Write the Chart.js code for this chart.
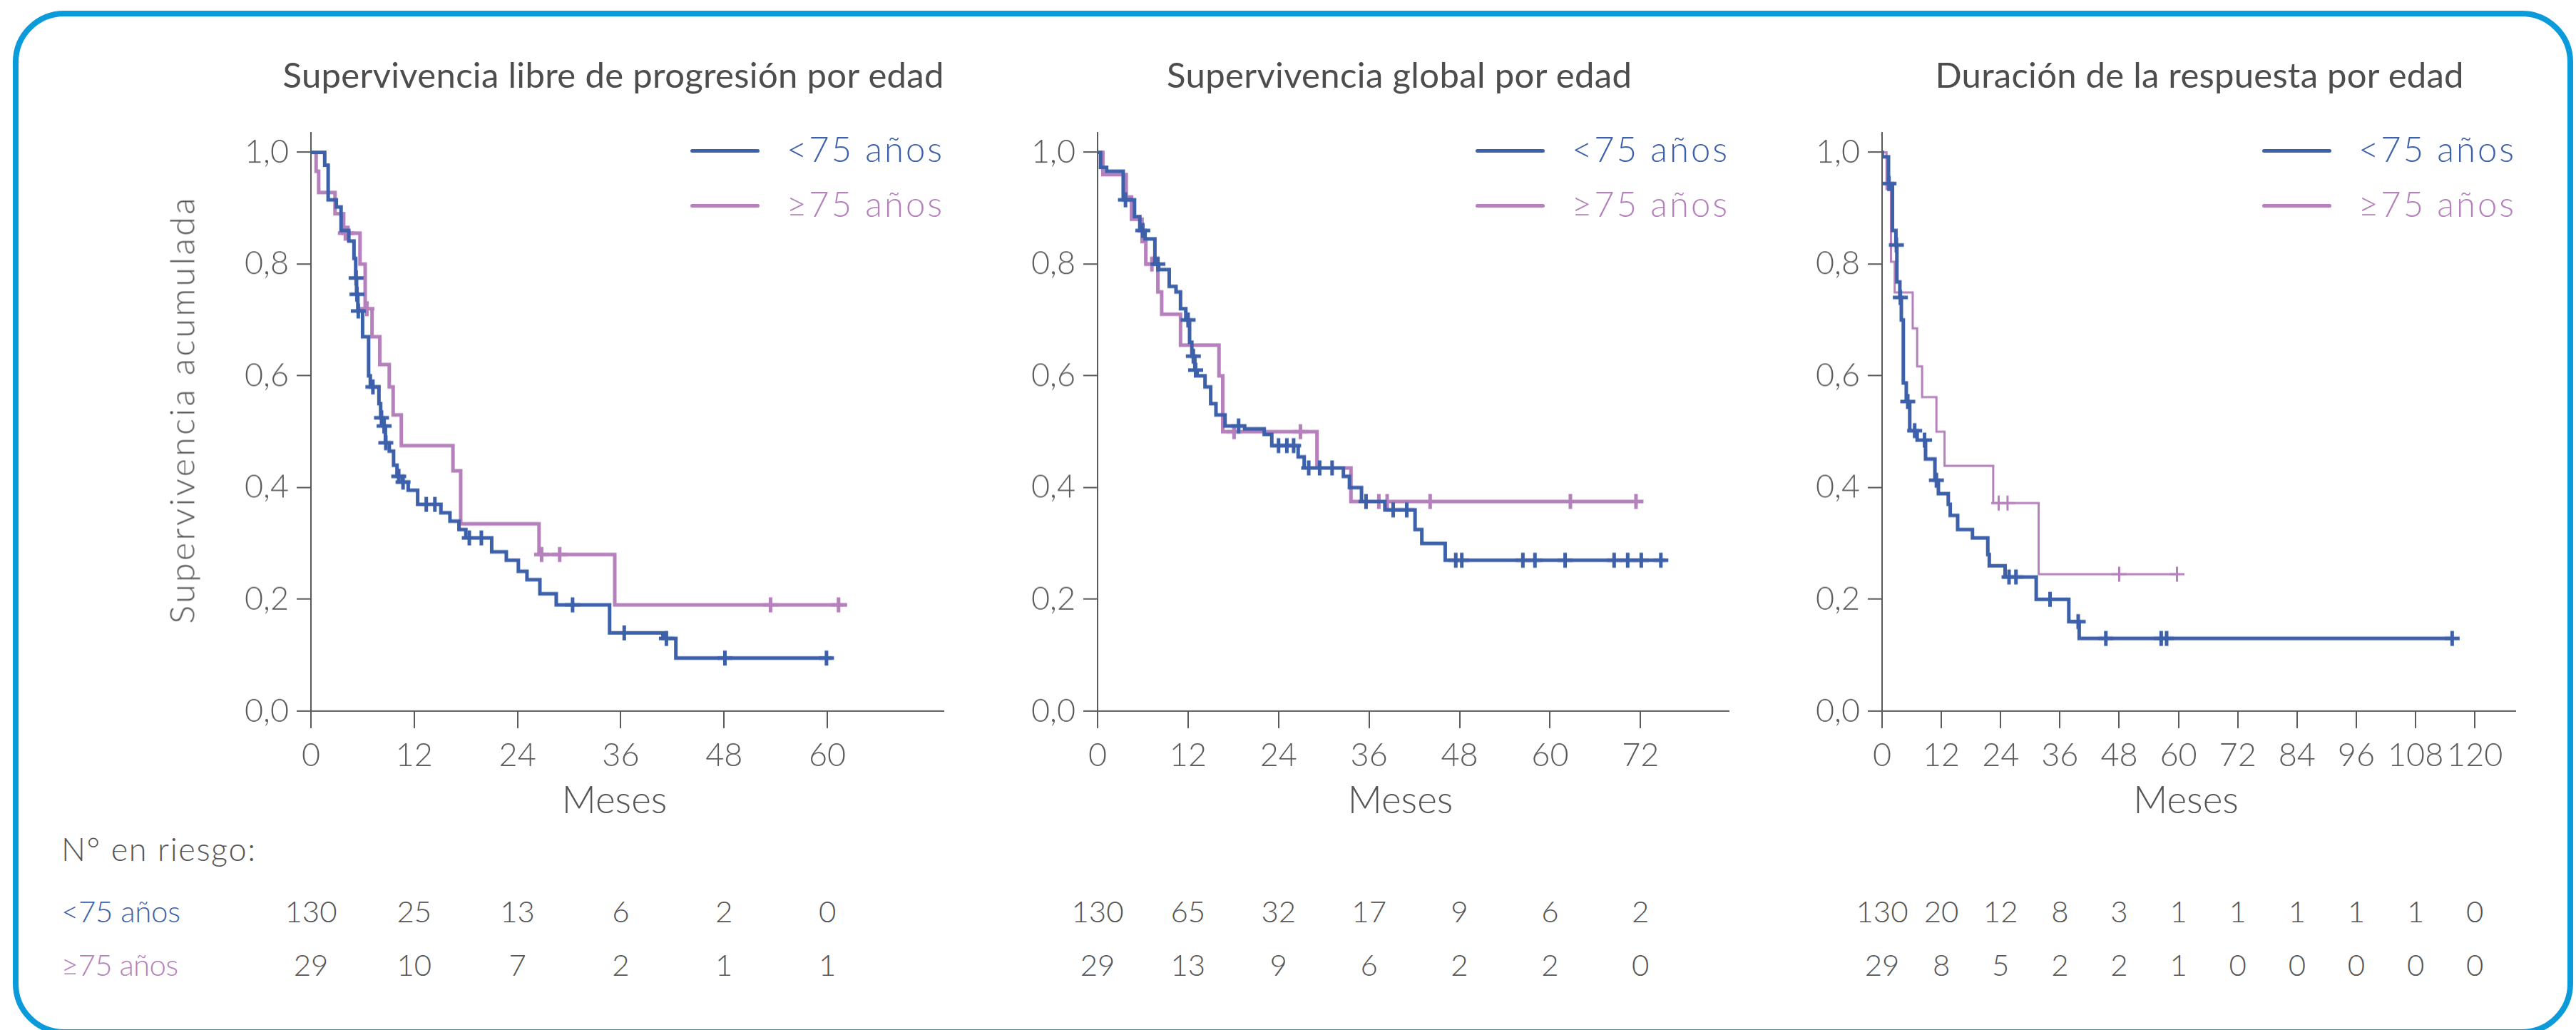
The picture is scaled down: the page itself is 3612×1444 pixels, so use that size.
<!DOCTYPE html>
<html>
<head>
<meta charset="utf-8">
<script src="https://cdn.jsdelivr.net/npm/chart.js@4.4.1/dist/chart.umd.min.js"></script>
<style>
html, body { margin: 0; padding: 0; background: #fff; }
body { width: 3612px; height: 1444px; position: relative; overflow: hidden; font-family: Lato, "Noto Sans", sans-serif; }
#frame { position: absolute; left: 18px; top: 15px; width: 3590px; height: 1436px; box-sizing: border-box; border: 8px solid #0b9bdb; border-radius: 72px; }
canvas { position: absolute; }
.txt { position: absolute; white-space: nowrap; line-height: 1; font-family: Lato, "Noto Sans", sans-serif; }
.key { position: absolute; border-radius: 3px; }
</style>
</head>
<body>
<div id="frame"></div>
<script>
// groups and shared axis data
const groups = ['<75 años', '≥75 años'];
const yTicks = [0, 0.2, 0.4, 0.6, 0.8, 1.0];
const xTitle = 'Meses';
const yTitle = 'Supervivencia acumulada';
const riskTitle = 'N° en riesgo:';

// Supervivencia libre de progresion
const pfsTitle = 'Supervivencia libre de progresión por edad';
const pfsTicks = [0, 12, 24, 36, 48, 60];
const pfsYoungT = [1.6, 2.0, 2.95, 3.5, 4.4, 5.0, 5.2, 5.3, 5.45, 6.0, 6.7, 6.9, 7.9, 8.1, 8.4, 8.65, 9.1, 9.6, 10.0, 10.6, 11.3, 12.4, 15.1, 16.15, 17.2, 18.0, 21.0, 22.7, 24.1, 25.1, 26.6, 28.5, 34.7, 40.9, 42.4];
const pfsYoungS = [0.977, 0.915, 0.902, 0.86, 0.841, 0.81, 0.775, 0.746, 0.716, 0.67, 0.60, 0.58, 0.55, 0.525, 0.51, 0.48, 0.465, 0.44, 0.42, 0.41, 0.395, 0.37, 0.355, 0.34, 0.325, 0.31, 0.285, 0.27, 0.25, 0.235, 0.21, 0.19, 0.14, 0.13, 0.095];
const pfsYoungCens = [5.25, 5.35, 5.5, 7.2, 8.2, 8.5, 8.7, 10.2, 10.7, 13.4, 14.4, 18.4, 19.8, 30.4, 36.4, 41.3, 48.1, 59.9];
const pfsYoungEnd = 60.5;
const pfsOldT = [0.6, 0.9, 2.8, 3.8, 5.7, 6.3, 7.1, 8.0, 9.1, 9.55, 10.5, 16.5, 17.4, 26.5, 35.3];
const pfsOldS = [0.966, 0.928, 0.89, 0.855, 0.80, 0.72, 0.67, 0.62, 0.58, 0.53, 0.475, 0.43, 0.335, 0.28, 0.19];
const pfsOldCens = [4.0, 4.3, 6.5, 26.8, 28.9, 53.4, 61.3];
const pfsOldEnd = 62.3;
const pfsRiskYoung = [130, 25, 13, 6, 2, 0];
const pfsRiskOld = [29, 10, 7, 2, 1, 1];

// Supervivencia global
const osTitle = 'Supervivencia global por edad';
const osTicks = [0, 12, 24, 36, 48, 60, 72];
const osYoungT = [0.4, 1.2, 3.4, 4.9, 5.6, 6.3, 7.6, 8.1, 9.5, 10.4, 11.0, 11.7, 12.2, 12.5, 12.9, 13.2, 14.25, 15.0, 15.7, 16.9, 19.5, 22.1, 23.1, 26.6, 27.4, 32.6, 33.4, 35.0, 38.1, 42.1, 43.0, 46.1];
const osYoungS = [0.973, 0.966, 0.915, 0.885, 0.86, 0.845, 0.80, 0.79, 0.76, 0.75, 0.72, 0.70, 0.66, 0.635, 0.61, 0.60, 0.58, 0.55, 0.53, 0.51, 0.505, 0.495, 0.475, 0.455, 0.435, 0.42, 0.40, 0.375, 0.36, 0.325, 0.30, 0.27];
const osYoungCens = [3.7, 6.0, 8.0, 12.0, 12.7, 13.0, 18.7, 24.0, 25.1, 26.0, 28.0, 29.45, 31.1, 35.6, 39.2, 41.0, 47.5, 48.3, 56.4, 58.0, 62.0, 68.5, 70.3, 72.1, 74.7];
const osYoungEnd = 75.3;
const osOldT = [0.7, 3.8, 4.5, 5.9, 6.4, 8.0, 8.5, 11.0, 16.1, 16.6, 29.1, 33.6];
const osOldS = [0.96, 0.92, 0.88, 0.84, 0.80, 0.75, 0.71, 0.655, 0.60, 0.50, 0.435, 0.375];
const osOldCens = [7.2, 18.1, 26.9, 37.3, 38.4, 44.1, 62.7, 71.4];
const osOldEnd = 71.8;
const osRiskYoung = [130, 65, 32, 17, 9, 6, 2];
const osRiskOld = [29, 13, 9, 6, 2, 2, 0];

// Duracion de la respuesta
const dorTitle = 'Duración de la respuesta por edad';
const dorTicks = [0, 12, 24, 36, 48, 60, 72, 84, 96, 108, 120];
const dorYoungT = [0.05, 1.3, 2.1, 2.8, 3.0, 3.6, 3.9, 4.3, 4.9, 5.6, 7.1, 8.8, 10.7, 11.4, 13.4, 13.8, 15.3, 18.3, 21.4, 21.7, 24.9, 31.2, 37.8, 39.9];
const dorYoungS = [0.992, 0.944, 0.86, 0.834, 0.768, 0.74, 0.70, 0.587, 0.554, 0.502, 0.485, 0.451, 0.413, 0.389, 0.37, 0.35, 0.325, 0.31, 0.28, 0.26, 0.24, 0.20, 0.16, 0.13];
const dorYoungCens = [1.4, 2.9, 3.7, 5.2, 6.6, 8.6, 11.0, 25.7, 27.1, 34.0, 39.7, 45.3, 56.5, 57.6, 115.4];
const dorYoungEnd = 115.7;
const dorOldT = [0.9, 1.8, 2.55, 6.2, 7.1, 8.1, 11.0, 12.65, 22.5, 31.7];
const dorOldS = [0.934, 0.804, 0.749, 0.685, 0.617, 0.562, 0.50, 0.439, 0.372, 0.245];
const dorOldCens = [23.6, 25.4, 48.0, 59.7];
const dorOldEnd = 60.0;
const dorRiskYoung = [130, 20, 12, 8, 3, 1, 1, 1, 1, 1, 0];
const dorRiskOld = [29, 8, 5, 2, 2, 1, 0, 0, 0, 0, 0];

const BLUE = '#3d60ab';
const PINK = '#b580bc';
const GREY = '#555555';
const AXIS = '#5a5a5a';

// KM curve as step points, starting at 1 at month 0
function kmPoints(t, s, end) {
    const pts = [{x: 0, y: 1}];
    t.forEach((v, i) => pts.push({x: v, y: s[i]}));
    pts.push({x: end, y: s[s.length - 1]});
    return pts;
}
// survival level in force at a given month (for censor marks)
function survAt(t, s, time) {
    let v = 1;
    for (let i = 0; i < t.length; i++) if (t[i] <= time) v = s[i];
    return v;
}
function censPoints(t, s, cens) {
    return cens.map(c => ({x: c, y: survAt(t, s, c)}));
}

function addText(str, x, baseline, size, color, opt) {
    opt = opt || {};
    const d = document.createElement('div');
    d.className = 'txt';
    d.textContent = str;
    d.style.fontSize = size + 'px';
    d.style.fontWeight = opt.weight || 300;
    d.style.color = color;
    document.body.appendChild(d);
    let w = d.getBoundingClientRect().width;
    if (opt.fit) {
        const n = str.length;
        const sp = (opt.fit - w) / (n - 1);
        d.style.letterSpacing = sp + 'px';
        w = opt.fit;
    }
    let left = x;
    if (opt.align === 'center') left = x - w / 2;
    if (opt.align === 'right') left = x - w;
    d.style.left = left + 'px';
    d.style.top = (baseline - 0.887 * size) + 'px';
    if (opt.rotate) {
        d.style.left = (x - w / 2) + 'px';
        d.style.top = (baseline - size / 2) + 'px';
        d.style.transformOrigin = (w / 2) + 'px ' + (size / 2) + 'px';
        d.style.transform = 'rotate(-90deg)';
    }
    return d;
}

const plotTop = 186, plotBottom = 996.6;
const panels = [
    {title: pfsTitle, titleX: 860, titleW: 927, left: 436, right: 1323, max: 73.5, ticks: pfsTicks,
     young: [pfsYoungT, pfsYoungS, pfsYoungEnd, pfsYoungCens], old: [pfsOldT, pfsOldS, pfsOldEnd, pfsOldCens],
     risk: [pfsRiskYoung, pfsRiskOld], oldWidth: 5},
    {title: osTitle, titleX: 1962, titleW: 652, left: 1539, right: 2424, max: 83.7, ticks: osTicks,
     young: [osYoungT, osYoungS, osYoungEnd, osYoungCens], old: [osOldT, osOldS, osOldEnd, osOldCens],
     risk: [osRiskYoung, osRiskOld], oldWidth: 5},
    {title: dorTitle, titleX: 3084, titleW: 741, left: 2639, right: 3527, max: 128.2, ticks: dorTicks,
     young: [dorYoungT, dorYoungS, dorYoungEnd, dorYoungCens], old: [dorOldT, dorOldS, dorOldEnd, dorOldCens],
     risk: [dorRiskYoung, dorRiskOld], oldWidth: 3}
];

function makePanel(p, idx) {
    const yW = 230, padT = 40, padR = 40, xH = 160;
    const w = (p.right - p.left) + yW + padR;
    const h = padT + (plotBottom - plotTop) + xH;
    const cvLeft = p.left - yW;
    const cv = document.createElement('canvas');
    cv.width = w; cv.height = h;
    cv.style.left = cvLeft + 'px';
    cv.style.top = (plotTop - padT) + 'px';
    cv.style.width = w + 'px';
    cv.style.height = h + 'px';
    document.body.appendChild(cv);

    const tickFont = {family: 'Lato', size: 45, weight: 300};
    const chart = new Chart(cv, {
        type: 'line',
        data: {
            datasets: [
                {label: groups[0] + ' c', data: censPoints(p.young[0], p.young[1], p.young[3]), showLine: false,
                 pointStyle: 'cross', pointRadius: 10.5, pointBorderWidth: 5, pointBorderColor: BLUE, borderColor: BLUE, order: 0},
                {label: groups[0], data: kmPoints(p.young[0], p.young[1], p.young[2]), stepped: true,
                 borderColor: BLUE, borderWidth: 5, pointRadius: 0, fill: false, order: 1},
                {label: groups[1] + ' c', data: censPoints(p.old[0], p.old[1], p.old[3]), showLine: false,
                 pointStyle: 'cross', pointRadius: 10.5, pointBorderWidth: p.oldWidth, pointBorderColor: PINK, borderColor: PINK, order: 2},
                {label: groups[1], data: kmPoints(p.old[0], p.old[1], p.old[2]), stepped: true,
                 borderColor: PINK, borderWidth: p.oldWidth, pointRadius: 0, fill: false, order: 3}
            ]
        },
        options: {
            responsive: false,
            animation: false,
            devicePixelRatio: 1,
            events: [],
            layout: {padding: {top: padT, right: padR, left: 0, bottom: 0}},
            plugins: {legend: {display: false}, tooltip: {enabled: false}},
            scales: {
                x: {
                    type: 'linear', min: 0, max: p.max,
                    afterBuildTicks: s => { s.ticks = p.ticks.map(v => ({value: v})); },
                    afterFit: s => { s.height = xH; },
                    ticks: {font: tickFont, color: AXIS, padding: 11, maxRotation: 0, autoSkip: false},
                    grid: {drawOnChartArea: false, tickLength: 24, color: AXIS, lineWidth: 2},
                    border: {color: AXIS, width: 2}
                },
                y: {
                    type: 'linear', min: 0, max: 1.035,
                    afterBuildTicks: s => { s.ticks = yTicks.map(v => ({value: v})); },
                    afterFit: s => { s.width = yW; },
                    ticks: {font: tickFont, color: AXIS, padding: 11,
                            callback: v => v.toFixed(1).replace('.', ',')},
                    grid: {drawOnChartArea: false, tickLength: 20, color: AXIS, lineWidth: 2},
                    border: {color: AXIS, width: 2}
                }
            }
        }
    });

    // title
    addText(p.title, p.titleX, 123.3, 49, '#4d4d4d', {weight: 400, align: 'center', fit: p.titleW});
    // x axis title
    const xs = chart.scales.x;
    const mid = cvLeft + (xs.left + xs.right) / 2;
    addText(xTitle, mid - 18, 1140, 53, GREY, {align: 'center'});

    // legend inside plot, top right
    const R = cvLeft + chart.chartArea.right;
    [[BLUE, 211.7, 227], [PINK, 288.3, 304]].forEach((row, i) => {
        const k = document.createElement('div');
        k.className = 'key';
        k.style.background = row[0];
        k.style.left = (R - 355) + 'px';
        k.style.width = '97px';
        k.style.top = (row[1] - 2.7) + 'px';
        k.style.height = '5.4px';
        document.body.appendChild(k);
        addText(chart.data.datasets[i * 2 + 1].label, R - 220, row[2], 49, row[0], {fit: 218});
    });

    // numbers at risk under each tick
    p.ticks.forEach((t, i) => {
        const x = cvLeft + xs.getPixelForValue(t);
        addText(String(p.risk[0][i]), x, 1293, 42, GREY, {align: 'center'});
        addText(String(p.risk[1][i]), x, 1368, 42, GREY, {align: 'center'});
    });
    return chart;
}

function build() {
    panels.forEach(makePanel);
    addText(yTitle, 254, 575.5, 48, GREY, {rotate: true, fit: 597});
    addText(riskTitle, 86, 1207.7, 45, GREY, {fit: 272});
    addText(groups[0], 86, 1293, 42, BLUE, {fit: 167});
    addText(groups[1], 86, 1368, 42, PINK, {fit: 164});
}

Promise.all([
    document.fonts.load('300 45px Lato'),
    document.fonts.load('400 49px Lato')
]).then(build, build);
</script>
</body>
</html>
